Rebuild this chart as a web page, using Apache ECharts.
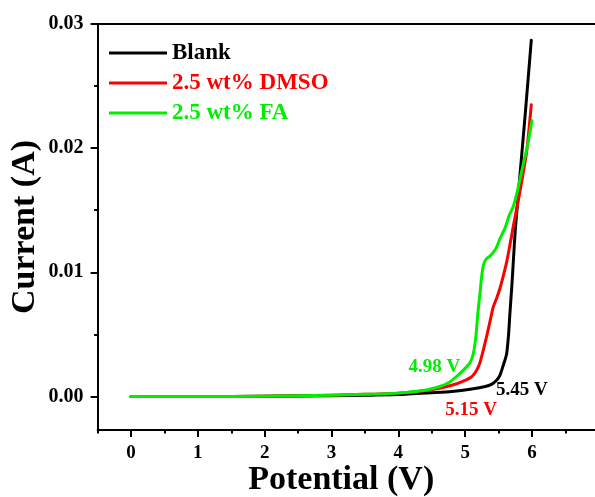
<!DOCTYPE html>
<html>
<head>
<meta charset="utf-8">
<script src="https://cdn.jsdelivr.net/npm/echarts@6/dist/echarts.min.js"></script>
<style>html,body{margin:0;padding:0;background:#fff}#c{width:595px;height:497px}</style>
</head>
<body>
<div id="c"></div>
<script>
// ---- data ----
const seriesNames = ['Blank', '2.5 wt% DMSO', '2.5 wt% FA'];
const seriesColors = ['#000000', '#ff0000', '#00ee00'];

const blankV = [0, 1, 2, 3, 3.5, 4, 4.5, 4.8, 5.1, 5.3, 5.4, 5.47, 5.52, 5.57, 5.62, 5.65, 5.67, 5.7, 5.72, 5.75, 5.81, 5.9, 5.99];
const blankI = [0, 0, 0.00002, 0.00006, 0.0001, 0.00015, 0.0003, 0.0004, 0.0006, 0.0008, 0.001, 0.0013, 0.0017, 0.0025, 0.0034, 0.005, 0.0067, 0.009, 0.0108, 0.0134, 0.0172, 0.0228, 0.0287];

const dmsoV = [0, 1, 2, 3, 3.5, 4, 4.5, 4.8, 5.0, 5.1, 5.17, 5.22, 5.27, 5.32, 5.37, 5.42, 5.47, 5.52, 5.57, 5.62, 5.67, 5.72, 5.81, 5.92, 5.99];
const dmsoI = [0, 0, 0.00002, 0.0001, 0.00017, 0.00027, 0.00055, 0.0009, 0.0013, 0.0016, 0.0021, 0.0027, 0.0037, 0.0048, 0.006, 0.0072, 0.0079, 0.0087, 0.0097, 0.0108, 0.0122, 0.0137, 0.0162, 0.0197, 0.0235];

const faV = [0, 1, 2, 3, 3.5, 4, 4.4, 4.62, 4.75, 4.87, 4.97, 5.07, 5.12, 5.16, 5.19, 5.22, 5.25, 5.28, 5.32, 5.37, 5.42, 5.47, 5.52, 5.6, 5.66, 5.72, 5.78, 5.84, 5.94, 6.0];
const faI = [0, 0, 0.00002, 0.0001, 0.00017, 0.00027, 0.0005, 0.0008, 0.0011, 0.0016, 0.0021, 0.0027, 0.0034, 0.0048, 0.0067, 0.0082, 0.0098, 0.0107, 0.0111, 0.0113, 0.0116, 0.012, 0.0127, 0.0136, 0.0146, 0.0153, 0.0165, 0.018, 0.0204, 0.0222];

// onset annotations (text, V, I) per series
const annotText = ['5.45 V', '5.15 V', '4.98 V'];
const annotV = [5.85, 5.09, 4.54];
const annotI = [0.00054, -0.00107, 0.00233];

const xMajorTicks = [0, 1, 2, 3, 4, 5, 6, 7];
const xMinorTicks = [-0.5, 0.5, 1.5, 2.5, 3.5, 4.5, 5.5, 6.5];
const yMajorTicks = [0, 0.01, 0.02, 0.03];
const yMinorTicks = [0.005, 0.015, 0.025];

// ---- chart ----
const FONT = "'Liberation Serif','Times New Roman',serif";
const pairs = (xs, ys) => xs.map((x, i) => [x, ys[i]]);
const allV = [blankV, dmsoV, faV];
const allI = [blankI, dmsoI, faI];

const chart = echarts.init(document.getElementById('c'), null, {renderer: 'canvas'});
const axisLineStyle = {color: '#000', width: 2};

chart.setOption({
  animation: false,
  backgroundColor: '#fff',
  grid: {left: 97.6, right: -3.8, top: 24, bottom: 67, containLabel: false, outerBoundsMode: 'none'},
  legend: {
    left: 104, top: 36.5, orient: 'vertical', itemGap: 7,
    itemWidth: 58, itemHeight: 3, icon: 'rect',
    textStyle: {fontFamily: FONT, fontWeight: 'bold', fontSize: 23, lineHeight: 23},
    data: seriesNames.map((n, i) => ({name: n, textStyle: {color: seriesColors[i]}}))
  },
  xAxis: [
    {
      type: 'value', position: 'bottom', min: -0.5, max: 7,
      name: 'Potential (V)', nameLocation: 'middle', nameGap: 33, nameMoveOverlap: false,
      nameTextStyle: {fontFamily: FONT, fontWeight: 'bold', fontSize: 34, color: '#000', padding: [0, 14, 0, 0]},
      axisLine: {show: true, onZero: false, lineStyle: axisLineStyle},
      axisTick: {show: true, inside: false, length: 7, customValues: xMajorTicks, lineStyle: {color: '#000', width: 2}},
      axisLabel: {show: true, margin: 14, customValues: xMajorTicks, showMaxLabel: true, showMinLabel: true, hideOverlap: false,
        alignMaxLabel: 'center', fontFamily: FONT, fontWeight: 'bold', fontSize: 19, color: '#000'},
      splitLine: {show: false}
    },
    {
      type: 'value', position: 'bottom', min: -0.5, max: 7,
      axisLine: {show: false, onZero: false},
      axisTick: {show: true, inside: false, length: 3.5, customValues: xMinorTicks, lineStyle: {color: '#000', width: 2}},
      axisLabel: {show: false},
      splitLine: {show: false}
    },
    {
      type: 'value', position: 'top', min: -0.5, max: 7,
      axisLine: {show: true, onZero: false, lineStyle: axisLineStyle},
      axisTick: {show: false}, axisLabel: {show: false}, splitLine: {show: false}
    }
  ],
  yAxis: [
    {
      type: 'value', position: 'left', min: -0.0027, max: 0.03,
      name: 'Current (A)', nameLocation: 'middle', nameGap: 55, nameMoveOverlap: false,
      nameTextStyle: {fontFamily: FONT, fontWeight: 'bold', fontSize: 34, color: '#000'},
      axisLine: {show: true, onZero: false, lineStyle: axisLineStyle},
      axisTick: {show: true, inside: false, length: 7, customValues: yMajorTicks, lineStyle: {color: '#000', width: 2}},
      axisLabel: {show: true, margin: 14, customValues: yMajorTicks, formatter: v => v.toFixed(2), fontFamily: FONT, fontWeight: 'bold', fontSize: 20, color: '#000'},
      splitLine: {show: false}
    },
    {
      type: 'value', position: 'left', min: -0.0027, max: 0.03,
      axisLine: {show: false, onZero: false},
      axisTick: {show: true, inside: false, length: 3.5, customValues: yMinorTicks, lineStyle: {color: '#000', width: 2}},
      axisLabel: {show: false},
      splitLine: {show: false}
    }
  ],
  series: seriesNames.map((n, i) => ({
    name: n, type: 'line', xAxisIndex: 0, yAxisIndex: 0,
    data: pairs(allV[i], allI[i]),
    showSymbol: false, symbol: 'none',
    smooth: 0.2,
    lineStyle: {color: seriesColors[i], width: 3, cap: 'round', join: 'round'},
    itemStyle: {color: seriesColors[i]},
    markPoint: {
      symbol: 'circle', symbolSize: 0, silent: true,
      label: {show: true, position: 'inside', formatter: annotText[i], color: seriesColors[i],
        fontFamily: FONT, fontWeight: 'bold', fontSize: 19},
      data: [{coord: [annotV[i], annotI[i]]}]
    }
  }))
});
</script>
</body>
</html>
